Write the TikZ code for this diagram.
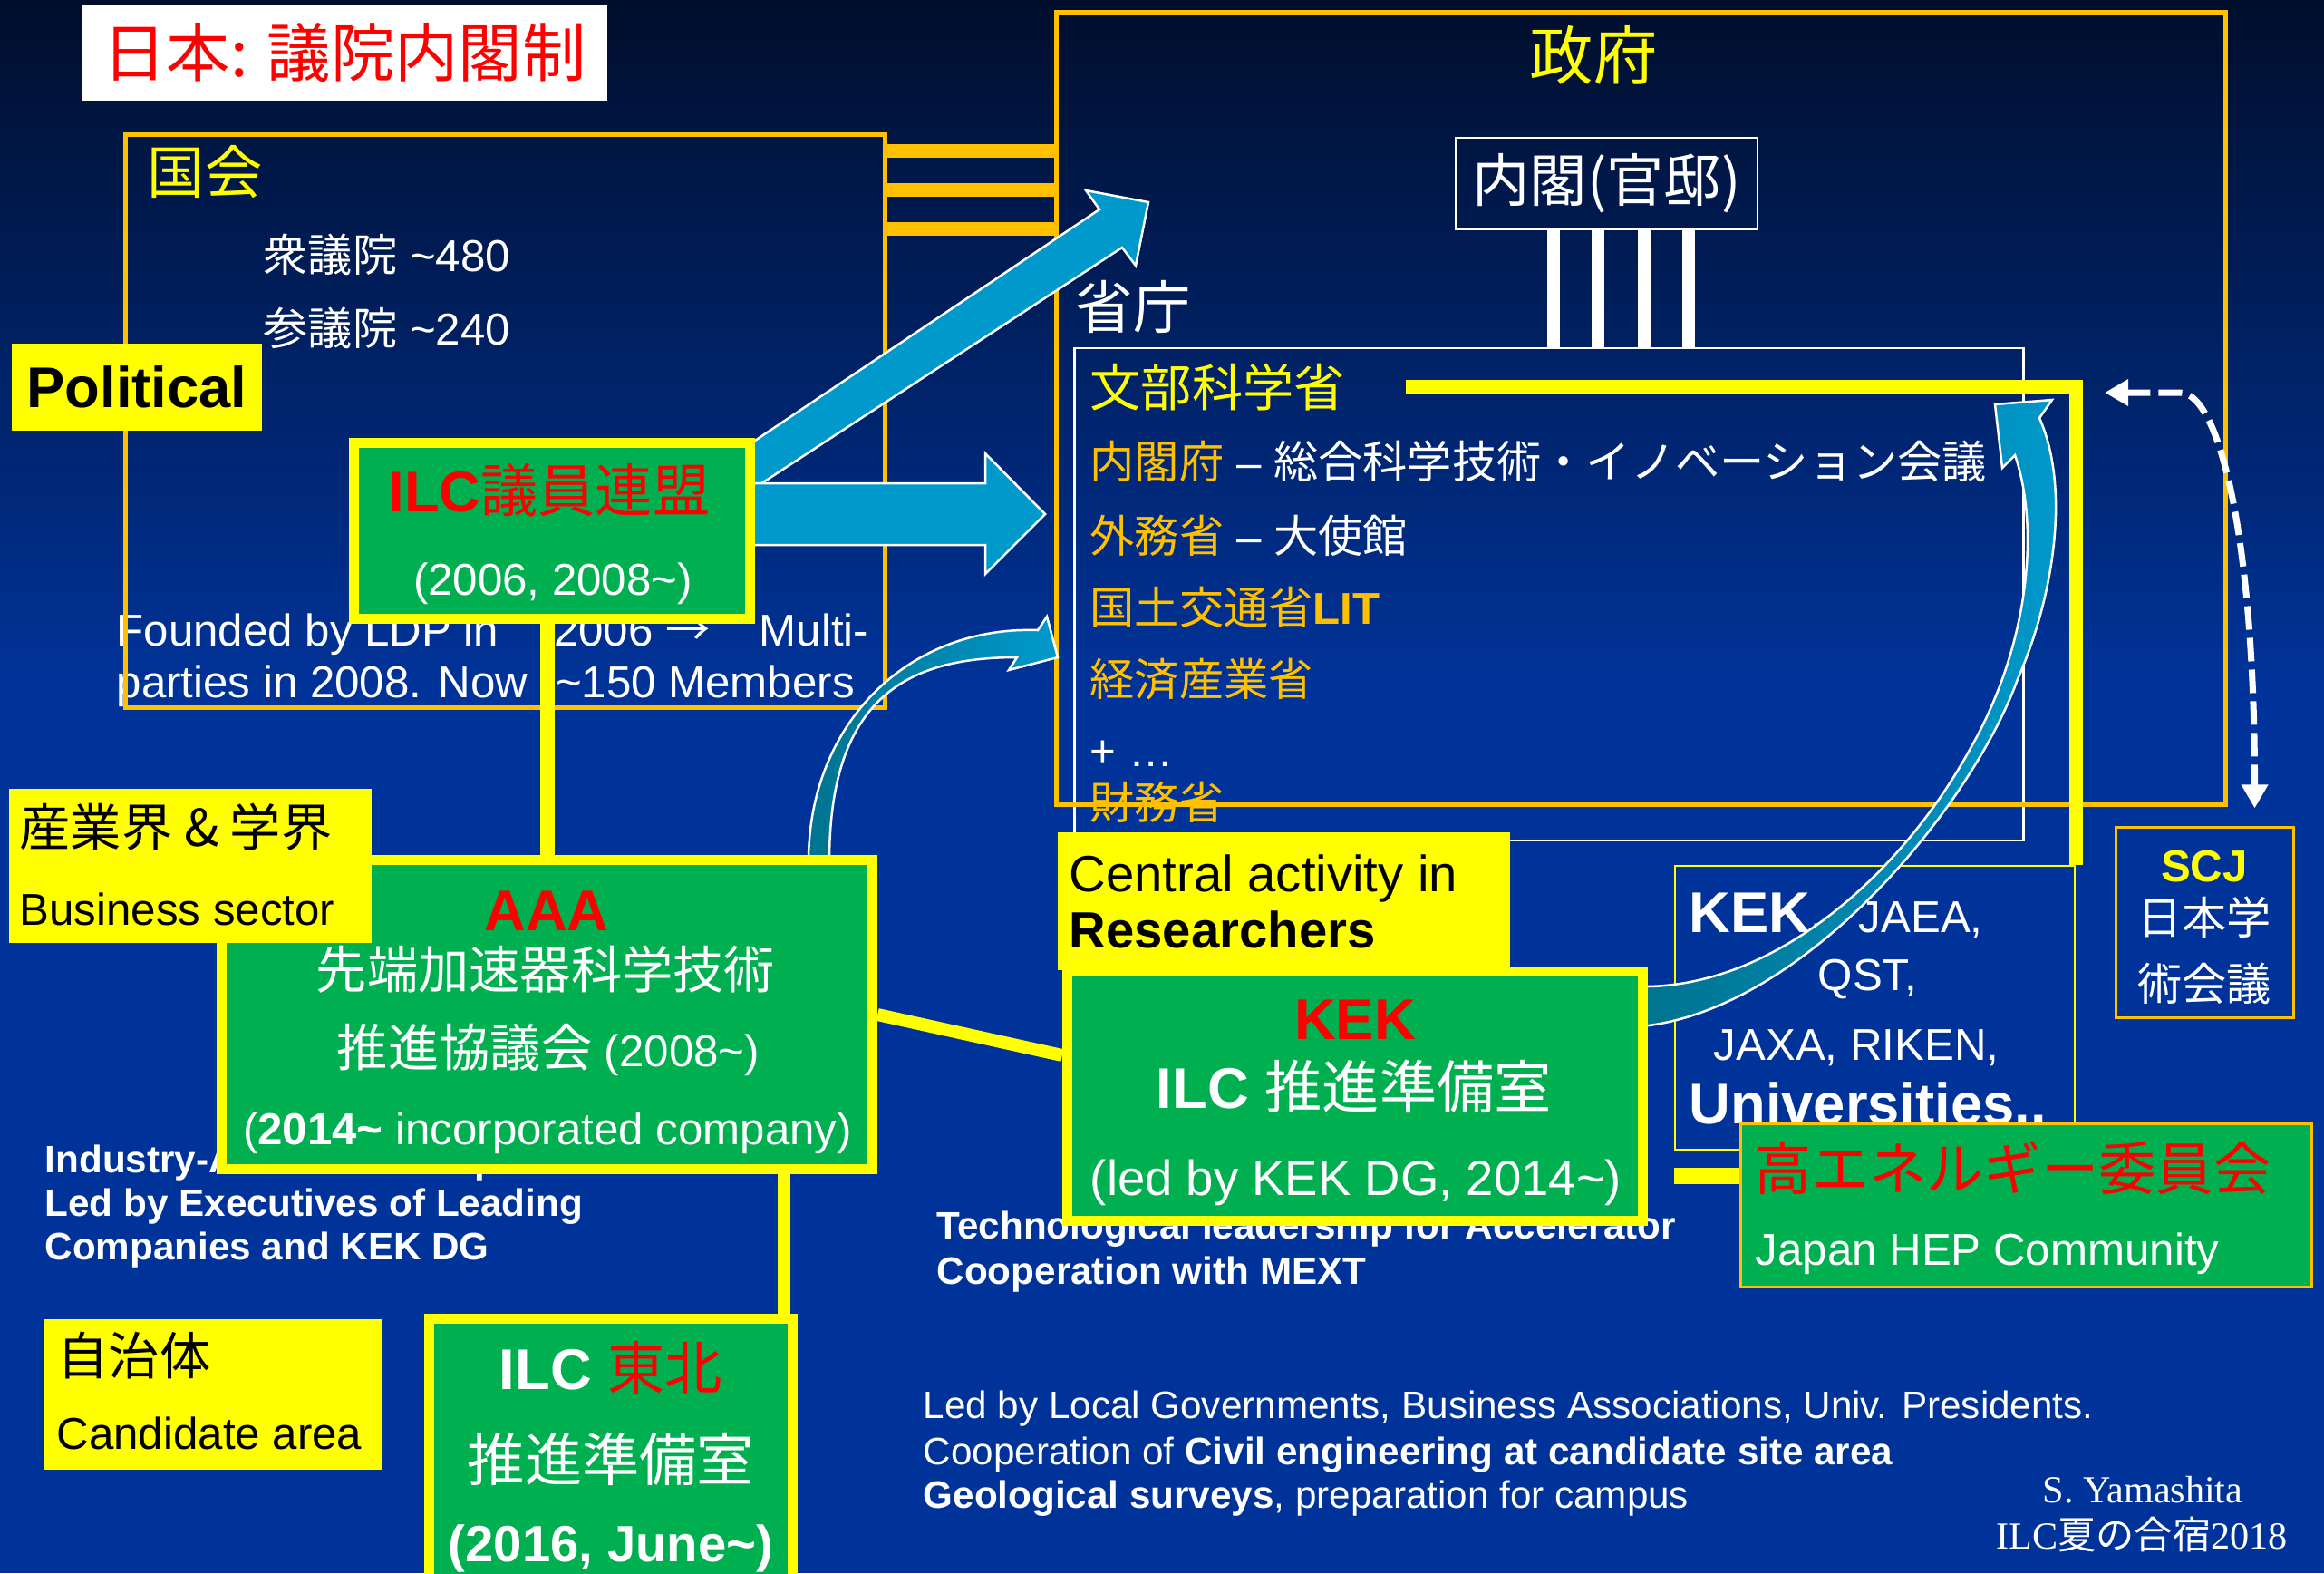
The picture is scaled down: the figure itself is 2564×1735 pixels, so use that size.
\documentclass[tikz,border=0pt]{standalone}
\usepackage{fontspec}
\setmainfont{Liberation Sans}
\newfontfamily\jp{Noto Sans CJK JP}
\newfontfamily\tms{Liberation Serif}
\usetikzlibrary{arrows.meta}
\definecolor{bgtop}{RGB}{0,14,44}
\definecolor{bgbot}{RGB}{0,51,153}
\definecolor{ppgreen}{HTML}{00B050}
\definecolor{ppyellow}{HTML}{FFFF00}
\definecolor{pporange}{HTML}{FFC000}
\definecolor{pparrow}{HTML}{0099CC}
\definecolor{arrdark}{HTML}{00738F}
\newcommand{\fsz}[1]{\fontsize{#1}{#1}\selectfont}
\newcommand{\tld}{\textasciitilde}

\begin{document}
\begin{tikzpicture}[x=0.01cm, y=-0.01cm,
  lt/.style={inner sep=0pt, anchor=base west},
  ct/.style={inner sep=0pt, anchor=base},
  gbox/.style={draw=ppyellow, fill=ppgreen, line width=1.1mm, inner sep=0pt},
  ybox/.style={fill=ppyellow, inner sep=0pt},
  obox/.style={draw=pporange, line width=0.5mm, inner sep=0pt},
  wbox/.style={draw=white, line width=0.25mm, inner sep=0pt},
  obar/.style={pporange, line width=1.5mm},
  wbar/.style={white, line width=1.4mm},
  yline/.style={ppyellow, line width=1.5mm},
  barrow/.style={fill=pparrow, draw=white, line width=0.25mm},
  carrow/.style={left color=arrdark, right color=pparrow, draw=white, line width=0.25mm},
  darr/.style={white, line width=0.7mm, dash pattern=on 2.6mm off 0.9mm,
    {Triangle[length=2.6mm,width=2.8mm]}-{Triangle[length=2.6mm,width=2.8mm]}}]
  \useasboundingbox (0,0) rectangle (2564,1735);
  \clip (0,0) rectangle (2564,1735);
  \shade[top color=bgtop, bottom color=bgbot] (0,0) rectangle (2564,760);
  \fill[bgbot] (0,759) rectangle (2564,1735);

  \node[lt, white, font=\fsz{14}] (fnd1) at (128,712) {Founded by LDP in\hspace{6.1mm}2006 {\jp →}\hspace{5.4mm}Multi-};
  \node[lt, white, font=\fsz{14}] (fnd2) at (128,769) {parties in 2008. Now\hspace{3.1mm}\tld150 Members};

  \node[fill=white, minimum width=5.8cm, minimum height=1.06cm, text=red, font=\jp\fsz{20}] (ttl) at (380,58) {日本: 議院内閣制};
  \node[obox, minimum width=8.37cm, minimum height=6.31cm] (kokkai) at (557.5,464.5) {};
  \node[lt, ppyellow, font=\jp\fsz{18}] (kk) at (162,213) {国会};
  \node[lt, white, font=\fsz{14}] (shu) at (290,299) {{\jp 衆議院} \tld480};
  \node[lt, white, font=\fsz{14}] (san) at (290,380) {{\jp 参議院} \tld240};
  \node[ybox, minimum width=2.76cm, minimum height=0.95cm, font=\bfseries\fsz{18}] (pol) at (151,427) {Political};

  \node[wbox, minimum width=3.33cm, minimum height=1.01cm, text=white, font=\jp\fsz{18}] (naikaku) at (1772.5,202.5) {内閣(官邸)};
  \node[wbox, minimum width=10.46cm, minimum height=5.43cm] (shocho) at (1709,655.5) {};
  \foreach \x in {1714,1763,1814,1863}
    \draw[wbar] (naikaku.south -| \x,0) -- (shocho.north -| \x,0);
  \node[lt, white, font=\jp\fsz{18}] (sh) at (1186,362) {省庁};
  \node[lt, ppyellow, font=\jp\fsz{16}] (monka) at (1202,448) {文部科学省};
  \node[lt, white, font=\fsz{14}] (cao) at (1202,527) {{\color{pporange}\jp 内閣府} – {\jp 総合科学技術・イノベーション会議}};
  \node[lt, white, font=\fsz{14}] (mofa) at (1202,609) {{\color{pporange}\jp 外務省} – {\jp 大使館}};
  \node[lt, pporange, font=\fsz{14}] (mlit) at (1202,688) {{\jp 国土交通省}\textbf{LIT}};
  \node[lt, pporange, font=\jp\fsz{14}] (meti) at (1202,767) {経済産業省};
  \node[lt, white, font=\fsz{14}] (etc) at (1202,845) {+ …};
  \node[lt, pporange, font=\jp\fsz{14}] (mof) at (1202,903) {財務省};

  \node[obox, minimum width=12.9cm, minimum height=8.74cm] (seifu) at (1810.5,450.5) {};
  \node[ct, ppyellow, font=\jp\fsz{20}] (sf) at (1758,87) {政府};
  \foreach \y in {166,209,252}
    \draw[obar] (kokkai.east |- 0,\y) -- (seifu.west |- 0,\y);

  \node[draw=ppyellow, line width=0.25mm, minimum width=4.41cm, minimum height=3.13cm] (inst) at (2068.5,1111.5) {};
  \node[lt, white, font=\bfseries\fsz{18}] (kekc) at (1863,1028) {KEK,};
  \node[lt, white, font=\fsz{14}] (jaea) at (2050,1028) {JAEA,};
  \node[lt, white, font=\fsz{14}] (qst) at (2005,1092) {QST,};
  \node[lt, white, font=\fsz{14}] (jaxa) at (1890,1169) {JAXA, RIKEN,};
  \node[lt, white, font=\bfseries\fsz{18}] (univ) at (1863,1239) {Universities..};
  \draw[yline] ([xshift=6.6mm]monka.east) -| (inst.north east);

  \node[lt, white, font=\bfseries\fsz{12}] (ind1) at (49,1293) {Industry-Academia Cooperation};
  \node[lt, white, font=\bfseries\fsz{12}] (ind2) at (49,1341) {Led by Executives of Leading};
  \node[lt, white, font=\bfseries\fsz{12}] (ind3) at (49,1389) {Companies and KEK DG};
  \node[lt, white, font=\bfseries\fsz{12}] (tech1) at (1033,1366) {Technological leadership for Accelerator};
  \node[lt, white, font=\bfseries\fsz{12}] (tech2) at (1033,1416) {Cooperation with MEXT};

  \filldraw[barrow] (815,498) -- (1213,231) -- (1198,210) -- (1267,223) -- (1253,293) -- (1238,273) -- (822,545) -- cycle;
  \filldraw[barrow] (815,533) -- (1087,533) -- (1087,500) -- (1153,567) -- (1087,633) -- (1087,601) -- (815,601) -- cycle;
  \path[carrow] (1810,1088) .. controls (1960,1090) and (2100,960) .. (2173,827)
    .. controls (2240,710) and (2250,580) .. (2223,502) -- (2209,516) -- (2201,446) -- (2264,441) -- (2250,461)
    .. controls (2285,540) and (2265,660) .. (2226,749)
    .. controls (2175,890) and (1990,1115) .. (1810,1132) -- cycle;
  \path[carrow] (892,950) .. controls (892,800) and (1000,690) .. (1145,695) -- (1155,680) -- (1167,725) -- (1113,739) -- (1122,725)
    .. controls (1000,725) and (915,770) .. (915,950) -- cycle;

  \node[gbox, minimum width=4.37cm, minimum height=1.94cm] (ilc) at (609,585.5) {};
  \node[ct, red, font=\fsz{18}] (ilc1) at (606,564) {\textbf{ILC}{\jp 議員連盟}};
  \node[ct, white, font=\fsz{14}] (ilc2) at (610,656) {(2006, 2008\tld)};

  \node[gbox, minimum width=7.18cm, minimum height=3.41cm] (aaa) at (603.5,1119) {};
  \node[ct, red, font=\bfseries\fsz{18}] (aaa1) at (603,1026) {AAA};
  \node[ct, white, font=\jp\fsz{16}] (aaa2) at (602,1090) {先端加速器科学技術};
  \node[ct, white, font=\fsz{14}] (aaa3) at (605,1176) {{\jp\fsz{16}推進協議会} (2008\tld)};
  \node[ct, white, font=\fsz{14}] (aaa4) at (604,1262) {(\textbf{2014\tld} incorporated company)};

  \node[gbox, minimum width=4.01cm, minimum height=3.1cm] (tohoku) at (674,1610) {};
  \node[ct, white, font=\fsz{18}] (toh1) at (674,1532) {\textbf{ILC} {\color{red}\jp 東北}};
  \node[ct, white, font=\jp\fsz{18}] (toh2) at (674,1633) {推進準備室};
  \node[ct, white, font=\bfseries\fsz{16}] (toh3) at (674,1722) {(2016, June\tld)};

  \node[ybox, minimum width=4.99cm, minimum height=1.52cm] (cen) at (1416.5,994) {};
  \node[lt, font=\fsz{16}] (cen1) at (1179,983) {Central activity in};
  \node[lt, font=\bfseries\fsz{16}] (cen2) at (1179,1045) {Researchers};

  \node[gbox, minimum width=6.35cm, minimum height=2.75cm] (kek) at (1495,1209) {};
  \node[ct, red, font=\bfseries\fsz{18}] (kek1) at (1495,1146) {KEK};
  \node[ct, white, font=\fsz{18}] (kek2) at (1494,1222) {\textbf{ILC} {\jp 推進準備室}};
  \node[ct, white, font=\fsz{15.5}] (kek3) at (1496,1318) {(led by KEK DG, 2014\tld)};

  \node[draw=pporange, fill=ppgreen, line width=0.3mm, minimum width=6.29cm, minimum height=1.79cm] (hep) at (2235.5,1329.5) {};
  \node[lt, red, font=\jp\fsz{18}] (hep1) at (1935,1312) {高エネルギー委員会};
  \node[lt, white, font=\fsz{14}] (hep2) at (1936,1395) {Japan HEP Community};

  \node[ybox, minimum width=4cm, minimum height=1.7cm] (sangyo) at (210,955) {};
  \node[lt, font=\jp\fsz{16}] (sg1) at (21,933) {産業界 \& 学界};
  \node[lt, font=\fsz{14}] (sg2) at (21,1020) {Business sector};

  \node[ybox, minimum width=3.73cm, minimum height=1.66cm] (jichi) at (235.5,1538) {};
  \node[lt, font=\jp\fsz{16}] (jc1) at (63,1516) {自治体};
  \node[lt, font=\fsz{14}] (jc2) at (62,1598) {Candidate area};

  \node[draw=pporange, line width=0.3mm, minimum width=1.95cm, minimum height=2.09cm] (scj) at (2432.5,1017.5) {};
  \node[ct, ppyellow, font=\bfseries\fsz{14}] (scj1) at (2432,972) {SCJ};
  \node[ct, white, font=\jp\fsz{14}] (scj2) at (2432,1030) {日本学};
  \node[ct, white, font=\jp\fsz{14}] (scj3) at (2432,1103) {術会議};

  \draw[yline, line width=1.6mm] (ilc.south -| aaa.north) -- (aaa.north);
  \coordinate (tl) at ([xshift=-1.55mm]tohoku.north east);
  \draw[yline, line width=1.4mm] (aaa.south -| tl) -- (tl);
  \draw[yline, line width=1.4mm] (aaa.east) -- ([yshift=4.5mm]kek.west);
  \coordinate (hl) at ([yshift=3.3mm]hep.west);
  \draw[yline, line width=1.8mm] (hl) -- (hl -| inst.west);
  \coordinate (mext) at (2322,433);
  \draw[darr] (mext) -- ++(83,0) .. controls +(45,0) and +(0,-290) .. ([xshift=5.5mm,yshift=2mm]scj.north);

  \node[lt, white, font=\fsz{12}] (loc1) at (1018,1564) {Led by Local Governments, Business Associations, Univ. Presidents.};
  \node[lt, white, font=\fsz{12}] (loc2) at (1018,1615) {Cooperation of \textbf{Civil engineering at candidate site area}};
  \node[lt, white, font=\fsz{12}] (loc3) at (1018,1663) {\textbf{Geological surveys}, preparation for campus};
  \node[ct, white, font=\tms\fsz{12}] (sig1) at (2364,1657) {S. Yamashita};
  \node[ct, white, font=\tms\fsz{12}] (sig2) at (2363,1708) {ILC{\jp 夏の合宿}2018};
\end{tikzpicture}
\end{document}
